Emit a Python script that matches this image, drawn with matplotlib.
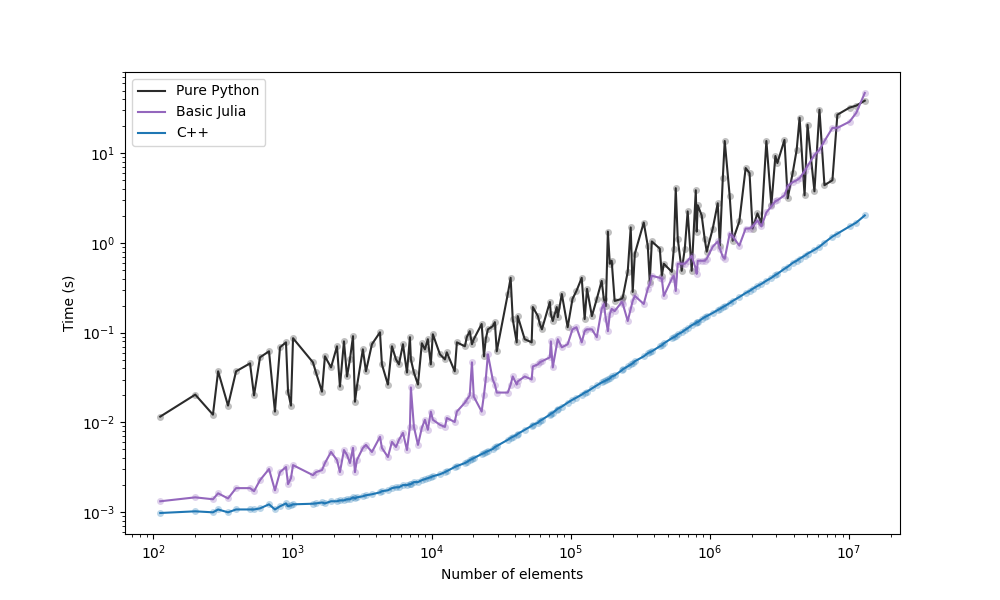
import numpy as np
import matplotlib
matplotlib.use("Agg")
import matplotlib.pyplot as plt

# tamaños de los arreglos (eje x)
n_elements = [
    112, 200, 268, 292, 344, 393, 495, 529, 584, 678, 748, 813, 898, 929, 975,
    1009, 1403, 1475, 1629, 1711, 1892, 2089, 2193, 2344, 2466, 2588, 2722, 2812,
    2904, 3206, 3373, 3724, 4255, 4395, 4853, 5188, 5546, 5823, 6223, 6653, 6984,
    7096, 7463, 7980, 8511, 8954, 9398, 9870,
    10210, 11480, 12470, 12860, 14660, 15200, 17350, 17900, 18800, 19500, 20100,
    22900, 23800, 24500, 25400, 27500, 28500, 29400, 35300, 37000, 38300, 40900,
    41600, 46700, 52400, 53400, 58100, 60000, 62100, 70800, 72000, 74300, 79400,
    80700, 86300, 95100, 103000,
    110000, 120000, 126000, 131000, 142000, 154000, 167000, 173000, 179000,
    185000, 191000, 197000, 207000, 233000, 237000, 257000, 270000, 279000,
    289000, 335000, 358000, 370000, 383000, 437000, 452000, 467000, 533000,
    551000, 569000, 588000, 628000, 661000, 693000, 741000, 793000, 805000,
    819000, 874000, 918000, 950000, 1050000,
    1140000, 1180000, 1240000, 1280000, 1390000, 1460000, 1630000, 1810000,
    1930000, 2030000, 2200000, 2350000, 2550000, 2770000, 2960000, 3060000,
    3440000, 3630000, 3940000, 4210000, 4420000, 4800000, 5040000, 5650000,
    6140000, 6670000, 7610000, 8260000, 10100000, 11300000, 13000000,
]

# tiempos medidos (s)
t_python = [
    0.0116, 0.0204, 0.0122, 0.0371, 0.0154, 0.0371, 0.0455, 0.0200, 0.0531,
    0.0620, 0.0132, 0.0687, 0.078, 0.022, 0.0154,
    0.0868, 0.0467, 0.036, 0.022, 0.0545, 0.041, 0.0705, 0.0251, 0.080, 0.0325,
    0.0504, 0.0914, 0.017, 0.0251, 0.0652, 0.0371, 0.0743, 0.101, 0.0443,
    0.0264, 0.0705, 0.0504, 0.0443, 0.0743, 0.036, 0.089, 0.0504, 0.036,
    0.0264, 0.0762, 0.0652, 0.0846, 0.0443,
    0.096, 0.0574, 0.0504, 0.0604, 0.0371, 0.078, 0.0705, 0.089, 0.104, 0.0743,
    0.0846, 0.125, 0.0545, 0.0846, 0.109, 0.118, 0.131, 0.062, 0.27, 0.409,
    0.142, 0.078, 0.153, 0.0846, 0.078, 0.193, 0.153, 0.125, 0.109, 0.220,
    0.161, 0.135, 0.193, 0.149, 0.270, 0.115, 0.238,
    0.292, 0.409, 0.142, 0.308, 0.153, 0.238, 0.378, 0.238, 0.198, 1.34, 0.587,
    0.634, 0.226, 0.238, 0.25, 0.477, 1.49, 0.285, 0.76, 1.69, 0.935, 0.37,
    1.04, 0.865, 0.431, 0.587, 0.477, 0.865, 4.08, 1.12, 0.49, 0.865, 2.25,
    0.49, 3.87, 1.34, 2.63, 2.03, 1.12, 0.80, 1.45,
    2.77, 0.935, 5.28, 13.7, 3.32, 1.06, 1.74, 6.84, 6.01, 1.45, 2.14, 1.65,
    13.7, 2.63, 9.33, 7.78, 14.1, 3.15, 6.01, 10.9, 24.9, 3.40, 20.8, 3.77,
    30.6, 4.41, 5.01, 26.9, 32.3, 34.0, 38.6,
]

t_julia = [
    0.00132, 0.00146, 0.00139, 0.00162, 0.00142, 0.00185, 0.00185, 0.00171,
    0.00227, 0.00302, 0.00175, 0.00279, 0.00318, 0.00205, 0.00239,
    0.00334, 0.00258, 0.00279, 0.00294, 0.00352, 0.00468, 0.0038, 0.00279,
    0.00492, 0.00433, 0.00352, 0.00519, 0.00279, 0.0038, 0.00519, 0.00561,
    0.00468, 0.0069, 0.00519, 0.00411, 0.00606, 0.00532, 0.00638, 0.00764,
    0.00492, 0.00892, 0.0245, 0.00892, 0.00561, 0.0087, 0.0107, 0.00826, 0.0132,
    0.0107, 0.0094, 0.0089, 0.0112, 0.0101, 0.0132, 0.0166, 0.0179, 0.020,
    0.0467, 0.0194, 0.0132, 0.0204, 0.0301, 0.0574, 0.0301, 0.0264, 0.0215,
    0.0215, 0.0264, 0.0325, 0.0264, 0.0286, 0.0325, 0.0301, 0.042, 0.0443,
    0.0467, 0.048, 0.0531, 0.080, 0.041, 0.0743, 0.0846, 0.0687, 0.0743, 0.109,
    0.115, 0.078, 0.104, 0.109, 0.109, 0.089, 0.184, 0.209, 0.142, 0.104, 0.161,
    0.184, 0.174, 0.220, 0.209, 0.135, 0.184, 0.226, 0.257, 0.209, 0.308, 0.35,
    0.431, 0.409, 0.40, 0.257, 0.40, 0.431, 0.292, 0.587, 0.587, 0.587, 0.634,
    0.72, 0.516, 0.453, 0.634, 0.634, 0.634, 0.668, 0.91,
    1.04, 0.865, 0.704, 0.668, 1.27, 1.18, 0.935, 1.45, 1.45, 1.53, 1.78, 1.53,
    2.19, 2.56, 2.92, 2.99, 3.40, 4.30, 4.76, 5.01, 5.28, 6.33, 7.20, 9.57,
    10.9, 13.7, 19.2, 19.2, 22.5, 28.3, 47.0,
]

t_cpp = [
    0.000977, 0.00102, 0.000994, 0.00107, 0.000994, 0.00107, 0.00107, 0.00107,
    0.0011, 0.00122, 0.00107, 0.00116, 0.00125, 0.00116, 0.00119,
    0.00122, 0.00124, 0.00125, 0.00128, 0.00125, 0.00132, 0.00132, 0.00135,
    0.00135, 0.00139, 0.00139, 0.00146, 0.00142, 0.00146, 0.0015, 0.00154,
    0.00158, 0.00166, 0.00171, 0.00175, 0.00185, 0.00189, 0.00189, 0.002,
    0.002, 0.00205, 0.00205, 0.00216, 0.00216, 0.00227, 0.00233, 0.00239, 0.00245,
    0.00251, 0.00264, 0.00279, 0.00286, 0.00318, 0.00326, 0.00352, 0.00361,
    0.0038, 0.0039, 0.004, 0.00444, 0.00455, 0.00467, 0.00479, 0.00505, 0.0053,
    0.00545, 0.0064, 0.00672, 0.0069, 0.00727, 0.00745, 0.00826, 0.00916,
    0.0094, 0.0099, 0.0104, 0.0107, 0.0122, 0.0125, 0.0128, 0.0139, 0.0142,
    0.015, 0.0166, 0.0179,
    0.0189, 0.0204, 0.0215, 0.022, 0.0239, 0.0258, 0.0279, 0.0286, 0.0294,
    0.0301, 0.0309, 0.0325, 0.0334, 0.0381, 0.0391, 0.0422, 0.0443, 0.0455,
    0.048, 0.0545, 0.059, 0.0604, 0.062, 0.0705, 0.0723, 0.076, 0.0868, 0.089,
    0.0914, 0.096, 0.101, 0.107, 0.112, 0.121, 0.128, 0.131, 0.131, 0.142,
    0.149, 0.153, 0.166,
    0.179, 0.184, 0.193, 0.198, 0.214, 0.226, 0.25, 0.277, 0.292, 0.308, 0.332,
    0.35, 0.38, 0.409, 0.44, 0.453, 0.516, 0.543, 0.60, 0.634, 0.668, 0.72,
    0.76, 0.84, 0.91, 1.01, 1.18, 1.27, 1.53, 1.69, 2.03,
]

series = [
    ("Pure Python", t_python, "#2b2b2b"),
    ("Basic Julia", t_julia, "#9467bd"),
    ("C++", t_cpp, "#1f77b4"),
]

fig, ax = plt.subplots(figsize=(10, 6), dpi=100)

for label, t, color in series:
    ax.plot(n_elements, t, "o", color=color, alpha=0.3, markersize=5,
            markeredgewidth=0)
    ax.plot(n_elements, t, "-", color=color, label=label, linewidth=1.5)

ax.set_xscale("log")
ax.set_yscale("log")
ax.set_xlabel("Number of elements")
ax.set_ylabel("Time (s)")
ax.legend(loc="upper left")

fig.savefig("out.png")
